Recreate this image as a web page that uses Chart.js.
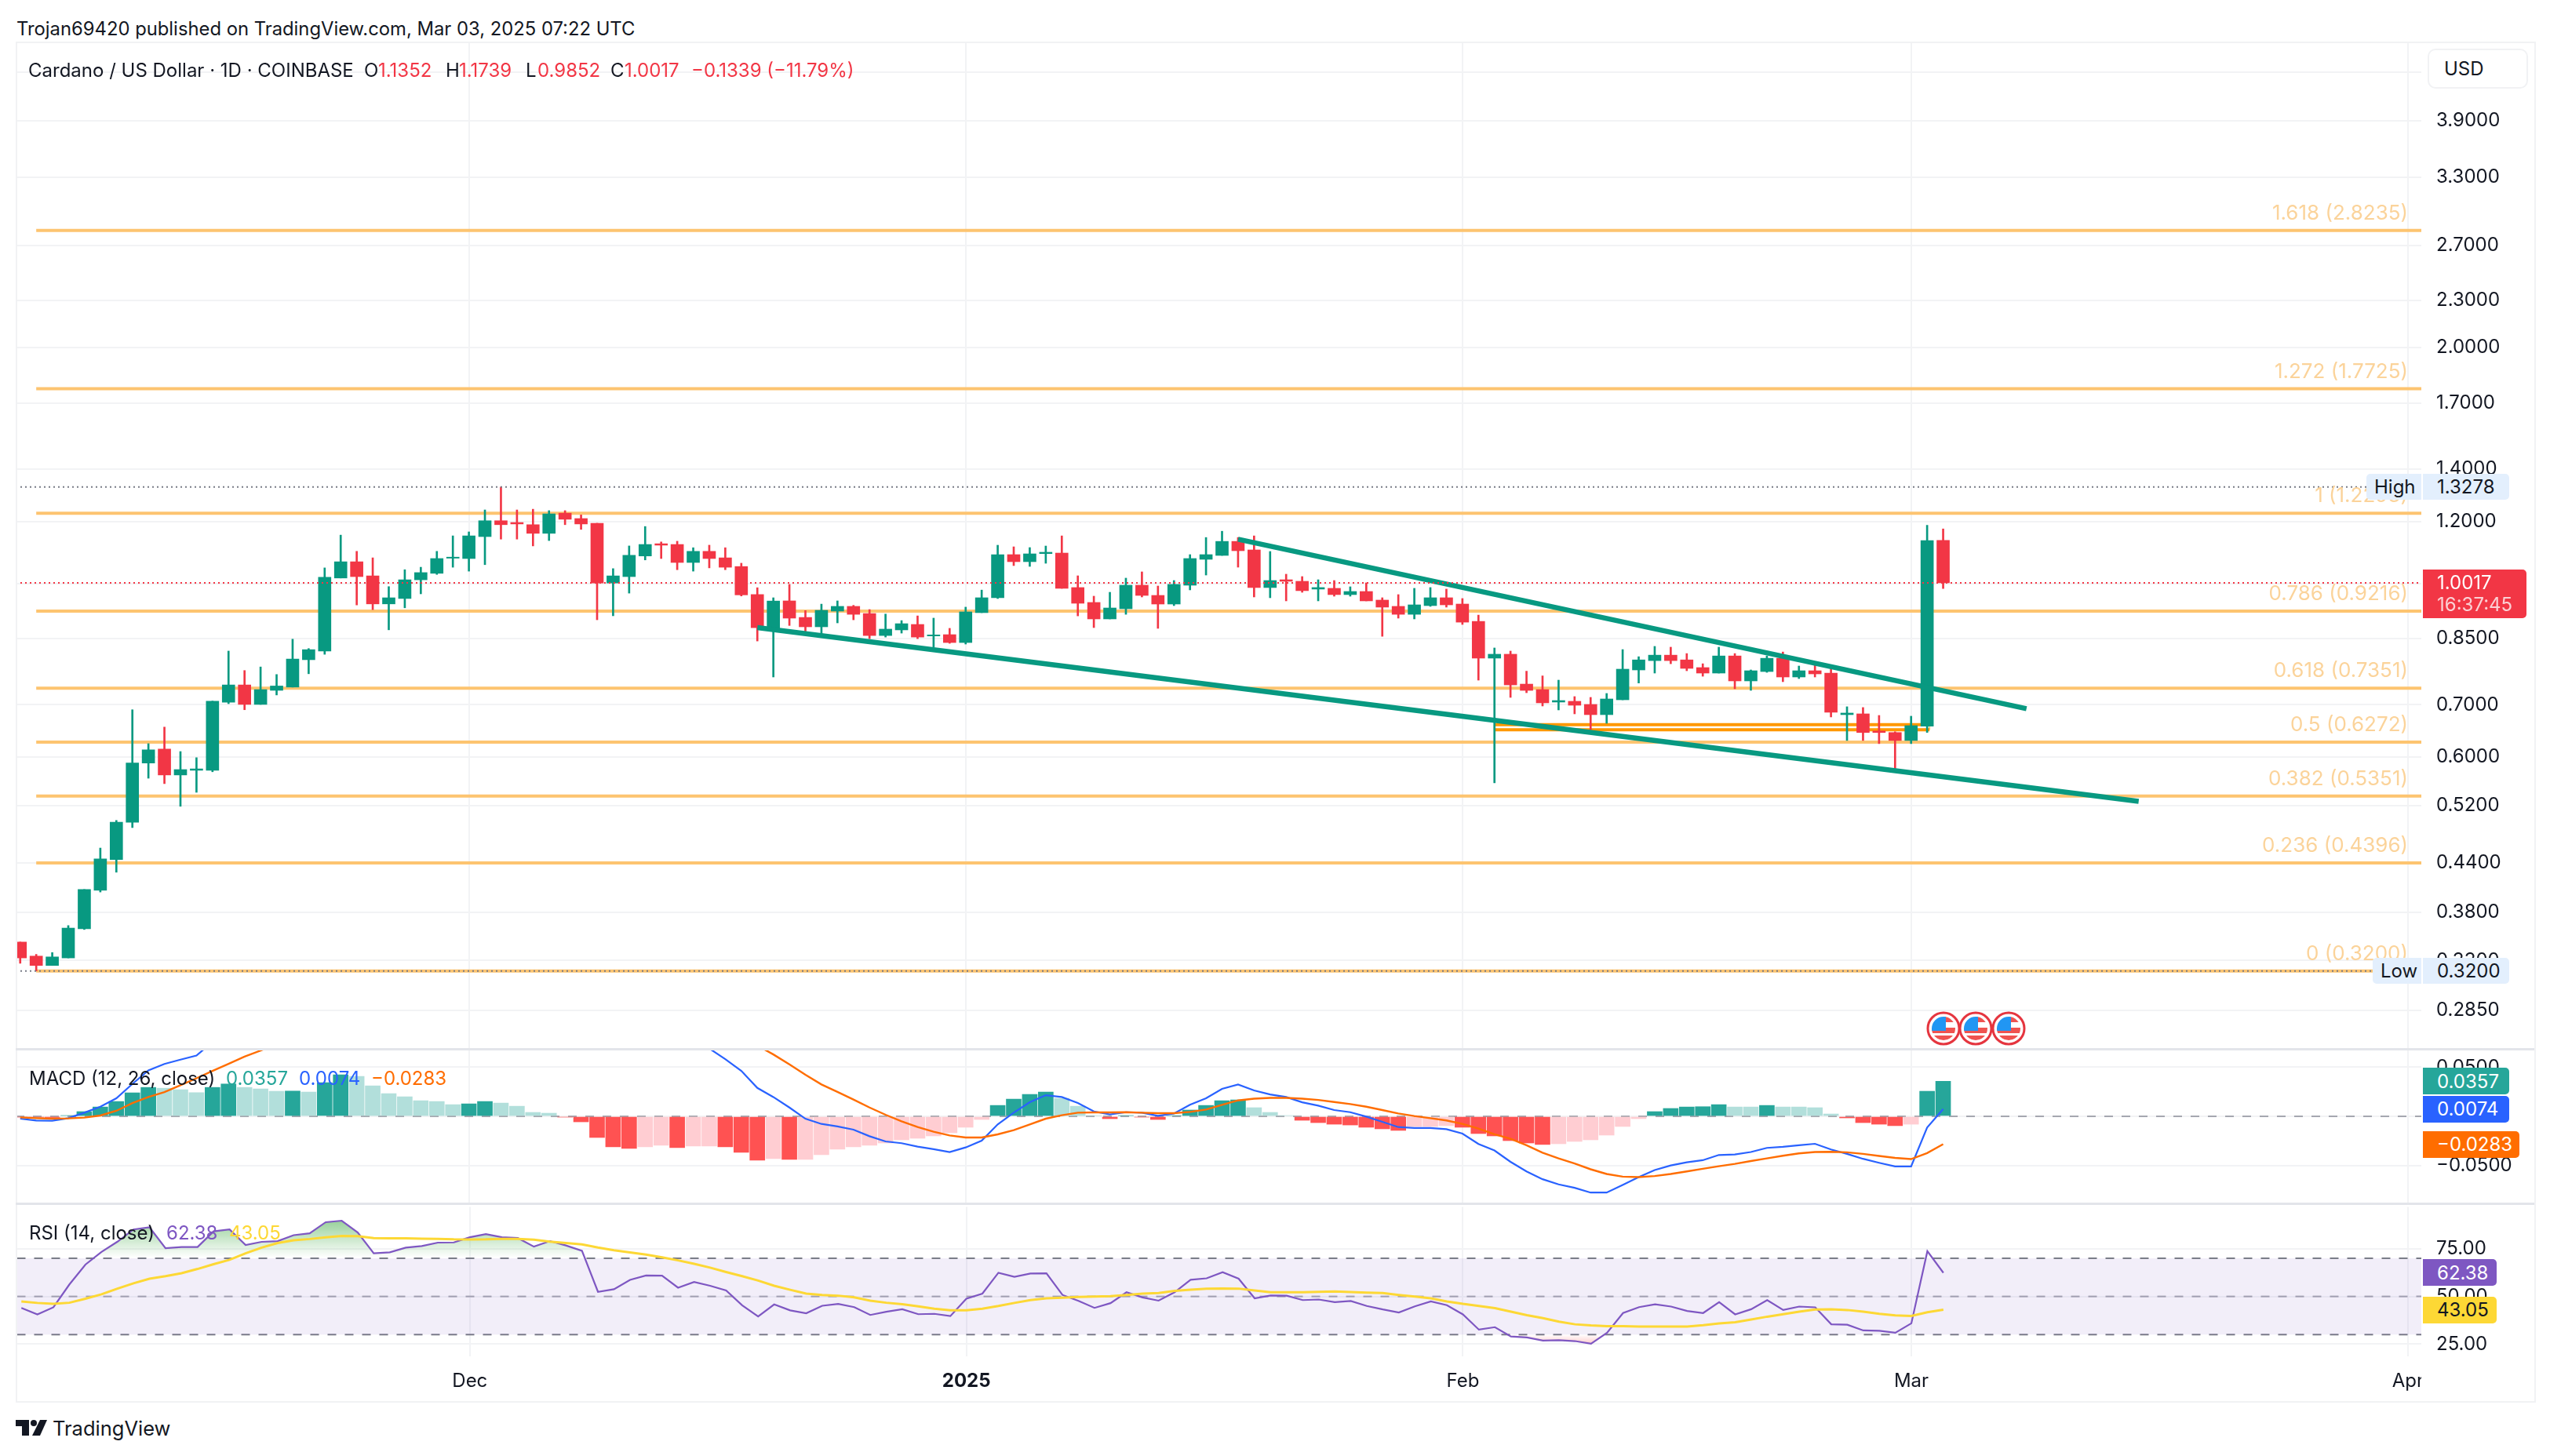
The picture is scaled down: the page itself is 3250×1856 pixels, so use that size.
<!DOCTYPE html>
<html>
<head>
<meta charset="utf-8">
<title>Cardano / US Dollar</title>
<script src="https://cdn.jsdelivr.net/npm/chart.js@4"></script>
<style>
  html, body { margin: 0; background: #fff; }
  body { position: relative; width: 3250px; height: 1856px; overflow: hidden; font-family: Inter, sans-serif; color: #131722; }
  canvas { position: absolute; left: 20px; }
  .txt { position: absolute; white-space: nowrap; transform: translateY(-50%); line-height: 1; font-size: 24px; z-index: 3; }
  .box { position: absolute; z-index: 4; display: flex; align-items: center; box-sizing: border-box; font-size: 24px; white-space: nowrap; }
  .frame { position: absolute; left: 20px; top: 53px; width: 3208px; height: 1731px; border: 2px solid #f1f2f4; z-index: 1; pointer-events: none; }
  .sep { position: absolute; left: 20px; width: 3210px; height: 3px; background: #e3e5ea; z-index: 2; }
</style>
</head>
<body>
<div class="frame"></div>
<div class="sep" style="top:1336px"></div>
<div class="sep" style="top:1533px"></div>
<canvas id="priceChart" width="3210" height="1282" style="top:55px;width:3210px;height:1282px"></canvas>
<canvas id="macdChart" width="3210" height="195" style="top:1339px;width:3210px;height:195px"></canvas>
<canvas id="rsiChart" width="3210" height="248" style="top:1537px;width:3210px;height:248px"></canvas>
<script>
// candles start on Nov 3 2024, one per day
const opens = [
  0.3484, 0.3343, 0.3252, 0.3325, 0.3622, 0.4057, 0.4440, 0.4956, 0.5897, 0.6145,
  0.5694, 0.5773, 0.5773, 0.7052, 0.7420, 0.7007, 0.7303, 0.7373, 0.7991, 0.8197,
  1.0161, 1.0658, 1.0225, 0.9416, 0.9567, 1.0108, 1.0302, 1.0771, 1.0760, 1.1477,
  1.2025, 1.1962, 1.1886, 1.1587, 1.2296, 1.2102, 1.1936, 1.0013, 1.0203, 1.0841,
  1.1238, 1.1214, 1.0636, 1.0990, 1.0782, 1.0510, 0.9679, 0.8759, 0.9500, 0.9049,
  0.8803, 0.9219, 0.9348, 0.9153, 0.8580, 0.8723, 0.8864, 0.8570, 0.8602, 0.8405,
  0.9177, 0.9588, 1.0884, 1.0661, 1.0917, 1.0934, 0.9880, 0.9456, 0.9009, 0.9283,
  0.9948, 0.9654, 0.9412, 0.9948, 1.0735, 1.0859, 1.1316, 1.1036, 0.9880, 1.0109,
  1.0063, 0.9835, 0.9857, 0.9677, 0.9766, 0.9522, 0.9348, 0.9132, 0.9369, 0.9588,
  0.9412, 0.8944, 0.8028, 0.8121, 0.7438, 0.7319, 0.7055, 0.7071, 0.7006, 0.6799,
  0.7103, 0.7754, 0.7970, 0.8099, 0.7987, 0.7808, 0.7683, 0.8080, 0.7508, 0.7718,
  0.8025, 0.7595, 0.7736, 0.7683, 0.6799, 0.6815, 0.6481, 0.6451, 0.6302, 0.6571,
  1.1352
];
const highs = [
  0.3484, 0.3360, 0.3378, 0.3657, 0.4066, 0.4593, 0.4982, 0.6898, 0.6243, 0.6555,
  0.6100, 0.5991, 0.7075, 0.8197, 0.7741, 0.7823, 0.7651, 0.8488, 0.8257, 1.0468,
  1.1527, 1.0990, 1.0782, 0.9907, 1.0412, 1.0488, 1.0990, 1.1502, 1.1637, 1.2413,
  1.3278, 1.2413, 1.2439, 1.2387, 1.2387, 1.2232, 1.1936, 1.0445, 1.1166, 1.1822,
  1.1298, 1.1321, 1.1107, 1.1191, 1.1107, 1.0613, 0.9875, 0.9587, 0.9972, 0.9233,
  0.9410, 0.9500, 0.9376, 0.9261, 0.9139, 0.8965, 0.9090, 0.9030, 0.8763, 0.9327,
  0.9807, 1.1189, 1.1137, 1.1112, 1.1163, 1.1501, 1.0227, 0.9632, 0.9743, 1.0157,
  1.0346, 0.9925, 1.0086, 1.0884, 1.1446, 1.1659, 1.1446, 1.1501, 1.0985, 1.0275,
  1.0204, 1.0109, 1.0086, 0.9902, 1.0017, 0.9588, 0.9677, 0.9857, 0.9880, 0.9835,
  0.9566, 0.9111, 0.8272, 0.8196, 0.7726, 0.7620, 0.7525, 0.7170, 0.7153, 0.7236,
  0.8233, 0.8062, 0.8310, 0.8291, 0.8137, 0.7897, 0.8291, 0.8137, 0.7754, 0.8080,
  0.8174, 0.7844, 0.7879, 0.7772, 0.6959, 0.6943, 0.6783, 0.6466, 0.6768, 1.1862,
  1.1739
];
const lows = [
  0.3273, 0.3200, 0.3252, 0.3325, 0.3615, 0.4036, 0.4278, 0.4878, 0.5640, 0.5551,
  0.5193, 0.5411, 0.5748, 0.7022, 0.6898, 0.7007, 0.7204, 0.7373, 0.7668, 0.8119,
  1.0161, 0.9387, 0.9258, 0.8725, 0.9308, 0.9699, 1.0269, 1.0488, 1.0368, 1.0568,
  1.1392, 1.1392, 1.1166, 1.1344, 1.1886, 1.1723, 0.8987, 0.9093, 0.9719, 1.0716,
  1.0760, 1.0412, 1.0368, 1.0468, 1.0412, 0.9638, 0.8443, 0.7595, 0.8837, 0.8596,
  0.8634, 0.8905, 0.8986, 0.8501, 0.8541, 0.8641, 0.8501, 0.8294, 0.8386, 0.8367,
  0.9177, 0.9566, 1.0539, 1.0514, 1.0611, 0.9857, 0.9090, 0.8783, 0.9009, 0.9132,
  0.9610, 0.8763, 0.9369, 0.9812, 1.0250, 1.0859, 1.0490, 0.9610, 0.9588, 0.9500,
  0.9743, 0.9500, 0.9632, 0.9632, 0.9500, 0.8560, 0.9030, 0.9009, 0.9348, 0.9327,
  0.8864, 0.7525, 0.5564, 0.7153, 0.7252, 0.6974, 0.6894, 0.6815, 0.6507, 0.6629,
  0.7103, 0.7462, 0.7683, 0.7897, 0.7736, 0.7612, 0.7683, 0.7337, 0.7303, 0.7700,
  0.7491, 0.7560, 0.7595, 0.6753, 0.6302, 0.6302, 0.6244, 0.5786, 0.6244, 0.6451,
  0.9852
];
const closes = [
  0.3325, 0.3252, 0.3335, 0.3630, 0.4066, 0.4449, 0.4956, 0.5897, 0.6131, 0.5694,
  0.5785, 0.5797, 0.7075, 0.7420, 0.7007, 0.7319, 0.7397, 0.8007, 0.8231, 1.0184,
  1.0658, 1.0203, 0.9416, 0.9587, 1.0108, 1.0324, 1.0760, 1.0804, 1.1502, 1.2025,
  1.1886, 1.1911, 1.1587, 1.2270, 1.2077, 1.1911, 1.0013, 1.0225, 1.0863, 1.1214,
  1.1191, 1.0636, 1.0990, 1.0760, 1.0488, 0.9669, 0.8780, 0.9496, 0.9030, 0.8803,
  0.9240, 0.9348, 0.9132, 0.8580, 0.8743, 0.8884, 0.8541, 0.8596, 0.8405, 0.9198,
  0.9588, 1.0884, 1.0661, 1.0909, 1.0960, 0.9857, 0.9434, 0.9009, 0.9304, 0.9948,
  0.9654, 0.9412, 0.9972, 1.0760, 1.0884, 1.1316, 1.1010, 0.9880, 1.0086, 1.0063,
  0.9790, 0.9880, 0.9677, 0.9766, 0.9500, 0.9327, 0.9132, 0.9390, 0.9588, 0.9390,
  0.8924, 0.8028, 0.8121, 0.7421, 0.7302, 0.7039, 0.7087, 0.6990, 0.6799, 0.7120,
  0.7772, 0.7987, 0.8099, 0.7970, 0.7790, 0.7683, 0.8080, 0.7508, 0.7736, 0.8025,
  0.7595, 0.7736, 0.7665, 0.6847, 0.6831, 0.6451, 0.6451, 0.6302, 0.6583, 1.1345,
  1.0017
];

const macdHist = [
  -0.0008, -0.0010, -0.0012, 0.0008, 0.0048, 0.0095, 0.0151, 0.0239, 0.0294, 0.0286,
  0.0271, 0.0241, 0.0294, 0.0329, 0.0294, 0.0279, 0.0255, 0.0257, 0.0247, 0.0342,
  0.0422, 0.0406, 0.0310, 0.0231, 0.0199, 0.0159, 0.0151, 0.0119, 0.0127, 0.0151,
  0.0135, 0.0103, 0.0040, 0.0032, -0.0008, -0.0056, -0.0215, -0.0310, -0.0326, -0.0310,
  -0.0294, -0.0318, -0.0302, -0.0302, -0.0310, -0.0366, -0.0446, -0.0430, -0.0438, -0.0438,
  -0.0390, -0.0334, -0.0310, -0.0294, -0.0271, -0.0239, -0.0223, -0.0199, -0.0167, -0.0111,
  -0.0032, 0.0111, 0.0175, 0.0223, 0.0247, 0.0183, 0.0103, 0.0008, -0.0024, 0.0008,
  -0.0008, -0.0032, 0.0008, 0.0064, 0.0111, 0.0159, 0.0167, 0.0088, 0.0040, 0.0008,
  -0.0040, -0.0064, -0.0080, -0.0088, -0.0111, -0.0127, -0.0143, -0.0103, -0.0103, -0.0095,
  -0.0111, -0.0175, -0.0199, -0.0247, -0.0271, -0.0286, -0.0279, -0.0255, -0.0239, -0.0191,
  -0.0103, -0.0024, 0.0048, 0.0080, 0.0095, 0.0098, 0.0119, 0.0095, 0.0095, 0.0111,
  0.0095, 0.0095, 0.0088, 0.0024, -0.0016, -0.0064, -0.0080, -0.0095, -0.0080, 0.0255,
  0.0357
];
const macdLine = [
  -0.0024, -0.0042, -0.0045, -0.0019, 0.0037, 0.0098, 0.0183, 0.0329, 0.0467, 0.0533,
  0.0576, 0.0618, 0.0756, 0.0862, 0.0901, 0.0947, 0.0995, 0.1047, 0.1087, 0.1242,
  0.1372, 0.1406, 0.1360, 0.1321, 0.1319, 0.1309, 0.1321, 0.1299, 0.1317, 0.1351,
  0.1335, 0.1303, 0.1230, 0.1212, 0.1162, 0.1104, 0.0925, 0.0810, 0.0784, 0.0780,
  0.0776, 0.0732, 0.0718, 0.0690, 0.0581, 0.0462, 0.0289, 0.0196, 0.0090, -0.0024,
  -0.0077, -0.0103, -0.0135, -0.0202, -0.0255, -0.0273, -0.0308, -0.0334, -0.0363, -0.0316,
  -0.0248, -0.0082, 0.0037, 0.0143, 0.0215, 0.0196, 0.0135, 0.0050, 0.0019, 0.0042,
  0.0037, 0.0005, 0.0029, 0.0117, 0.0183, 0.0279, 0.0324, 0.0263, 0.0223, 0.0196,
  0.0143, 0.0109, 0.0064, 0.0042, -0.0003, -0.0056, -0.0109, -0.0119, -0.0119, -0.0130,
  -0.0175, -0.0281, -0.0347, -0.0462, -0.0560, -0.0639, -0.0692, -0.0727, -0.0775, -0.0775,
  -0.0698, -0.0618, -0.0546, -0.0499, -0.0467, -0.0446, -0.0393, -0.0387, -0.0363, -0.0321,
  -0.0310, -0.0294, -0.0279, -0.0337, -0.0382, -0.0432, -0.0472, -0.0509, -0.0509, -0.0114,
  0.0074
];
const macdSignal = [
  -0.0011, -0.0019, -0.0024, -0.0021, -0.0013, 0.0008, 0.0056, 0.0135, 0.0196, 0.0247,
  0.0316, 0.0387, 0.0462, 0.0533, 0.0607, 0.0668, 0.0740, 0.0790, 0.0840, 0.0900,
  0.0950, 0.1000, 0.1050, 0.1090, 0.1120, 0.1150, 0.1170, 0.1180, 0.1190, 0.1200,
  0.1200, 0.1200, 0.1190, 0.1180, 0.1170, 0.1160, 0.1140, 0.1120, 0.1110, 0.1090,
  0.1070, 0.1050, 0.1020, 0.0990, 0.0940, 0.0860, 0.0720, 0.0629, 0.0528, 0.0422,
  0.0324, 0.0249, 0.0170, 0.0090, 0.0016, -0.0050, -0.0109, -0.0156, -0.0194, -0.0215,
  -0.0215, -0.0183, -0.0141, -0.0082, -0.0024, 0.0011, 0.0037, 0.0040, 0.0040, 0.0042,
  0.0037, 0.0032, 0.0032, 0.0045, 0.0069, 0.0117, 0.0162, 0.0180, 0.0188, 0.0188,
  0.0180, 0.0167, 0.0146, 0.0125, 0.0098, 0.0064, 0.0029, 0.0003, -0.0019, -0.0042,
  -0.0077, -0.0125, -0.0183, -0.0228, -0.0294, -0.0369, -0.0427, -0.0480, -0.0538, -0.0586,
  -0.0613, -0.0618, -0.0607, -0.0586, -0.0560, -0.0533, -0.0507, -0.0483, -0.0454, -0.0427,
  -0.0401, -0.0377, -0.0363, -0.0361, -0.0366, -0.0382, -0.0403, -0.0422, -0.0435, -0.0374,
  -0.0283
];

const rsiLine = [
  44.0, 40.6, 44.3, 56.3, 66.7, 73.3, 78.7, 85.1, 86.2, 75.3,
  75.9, 75.9, 84.1, 85.1, 76.9, 78.6, 79.0, 82.1, 83.1, 88.9,
  89.7, 83.5, 72.6, 73.1, 75.6, 76.4, 78.2, 78.3, 81.0, 82.7,
  81.0, 80.6, 76.1, 79.0, 76.7, 73.9, 52.4, 53.8, 58.7, 61.0,
  60.9, 54.6, 57.6, 55.6, 53.1, 45.4, 39.5, 45.8, 42.7, 41.2,
  45.1, 46.1, 44.4, 40.3, 42.0, 43.3, 40.7, 40.9, 39.7, 48.8,
  51.5, 62.4, 60.3, 62.0, 62.1, 50.8, 47.7, 44.0, 46.5, 52.2,
  49.5, 47.8, 52.2, 58.7, 59.5, 62.7, 59.3, 49.0, 50.5, 50.4,
  48.1, 48.4, 47.0, 47.6, 45.0, 43.2, 41.6, 44.8, 47.4, 45.4,
  40.6, 32.6, 33.9, 29.0, 28.5, 26.9, 27.1, 26.6, 25.2, 31.0,
  41.3, 44.4, 45.9, 44.7, 42.4, 41.3, 47.0, 40.6, 43.3, 48.1,
  42.9, 44.7, 44.3, 35.4, 35.2, 32.2, 32.0, 31.0, 35.9, 73.7,
  62.38
];
const rsiAverage = [
  47.4, 46.6, 46.1, 46.7, 48.8, 51.1, 54.1, 56.9, 59.3, 60.6,
  62.2, 64.4, 66.9, 69.2, 72.6, 75.6, 78.0, 79.4, 80.1, 81.0,
  81.7, 81.6, 80.6, 80.5, 80.5, 80.3, 80.2, 79.9, 79.8, 79.9,
  80.2, 80.1, 79.7, 78.7, 78.0, 77.3, 75.6, 74.2, 73.1, 71.9,
  70.5, 68.9, 67.1, 65.1, 62.8, 60.6, 58.3, 55.6, 53.5, 51.5,
  50.8, 50.4, 49.5, 47.8, 46.7, 45.9, 44.8, 43.6, 42.7, 42.7,
  43.6, 45.0, 46.6, 48.1, 49.0, 49.3, 49.7, 49.9, 50.1, 50.8,
  51.5, 51.8, 52.9, 53.5, 54.1, 54.2, 54.1, 53.1, 52.2, 52.2,
  52.2, 52.4, 52.6, 52.3, 52.0, 51.8, 50.8, 49.9, 49.0, 47.4,
  46.1, 45.0, 43.9, 42.0, 40.2, 38.6, 36.8, 35.4, 34.8, 34.4,
  34.4, 34.2, 34.2, 34.2, 34.2, 34.9, 35.9, 36.5, 37.9, 39.4,
  40.7, 42.0, 43.2, 43.3, 42.9, 42.0, 40.9, 40.1, 39.8, 41.7,
  43.05
];

const monthDays = [28, 59, 90, 118, 149];
const monthLabels = ['Dec', '2025', 'Feb', 'Mar', 'Apr'];
const priceTicks = [4.5, 3.9, 3.3, 2.7, 2.3, 2.0, 1.7, 1.4, 1.2, 1.0, 0.85, 0.7, 0.6, 0.52, 0.44, 0.38, 0.33, 0.285];
const macdTicks = [0.05, 0, -0.05];
const rsiTicks = [75, 50, 25];
const fibRatios = ['1.618', '1.272', '1', '0.786', '0.618', '0.5', '0.382', '0.236', '0'];
const fibLevels = [2.8235, 1.7725, 1.2293, 0.9216, 0.7351, 0.6272, 0.5351, 0.4396, 0.3200];
const upperTrendDays = [76, 125.2];
const upperTrendPrices = [1.1389, 0.6919];
const lowerTrendDays = [46, 132.2];
const lowerTrendPrices = [0.8782, 0.5269];
const zoneDays = [92, 119.15];
const zonePrices = [0.6600, 0.6505];
const highPrice = 1.3278;
const lowPrice = 0.3200;
const lastPrice = 1.0017;

const GREEN = '#089981', RED = '#f23645', FIB = '#fdc470', FIB_TEXT = '#fbd39a';
const GRID = '#f2f3f5', TEXT = '#131722';
const X_MIN = -0.2815, X_MAX = 149.84;
const AXIS_WIDTH = 144;
const FONT = 'Inter';
const days = closes.map((c, i) => i);

function hLine(value, x0, x1, color, width, dash, order) {
  return {
    type: 'line',
    data: [{ x: x0, y: value }, { x: x1, y: value }],
    borderColor: color,
    borderWidth: width,
    borderDash: dash || [],
    pointRadius: 0,
    fill: false,
    order: order
  };
}

function seriesLine(values, color, width, order) {
  return {
    type: 'line',
    data: values.map((v, i) => ({ x: days[i], y: v })),
    borderColor: color,
    borderWidth: width,
    pointRadius: 0,
    tension: 0,
    fill: false,
    order: order
  };
}

function segment(xs, ys, color, width, order) {
  return {
    type: 'line',
    data: xs.map((x, i) => ({ x: x, y: ys[i] })),
    borderColor: color,
    borderWidth: width,
    pointRadius: 0,
    fill: false,
    order: order
  };
}

function xAxis(showLabels) {
  return {
    type: 'linear',
    min: X_MIN,
    max: X_MAX,
    bounds: 'data',
    offset: false,
    border: { display: false },
    grid: { color: GRID, lineWidth: 2, drawTicks: false, offset: false },
    afterBuildTicks: scale => { scale.ticks = monthDays.map(v => ({ value: v })); },
    afterFit: scale => {
      scale.height = showLabels ? 56 : 0;
      scale.paddingLeft = 0;
      scale.paddingRight = 0;
    },
    ticks: {
      display: showLabels,
      autoSkip: false,
      maxRotation: 0,
      padding: 17,
      color: TEXT,
      font: ctx => ({ family: FONT, size: 24, weight: ctx.tick && ctx.tick.value === 59 ? 'bold' : 'normal' }),
      callback: value => monthLabels[monthDays.indexOf(value)]
    }
  };
}

function yAxis(type, min, max, tickValues, format) {
  return {
    type: type,
    position: 'right',
    min: min,
    max: max,
    bounds: 'data',
    border: { display: false },
    grid: { color: GRID, lineWidth: 2, drawTicks: false },
    afterBuildTicks: scale => { scale.ticks = tickValues.map(v => ({ value: v })); },
    afterFit: scale => {
      scale.width = AXIS_WIDTH;
      scale.paddingTop = 0;
      scale.paddingBottom = 0;
    },
    ticks: {
      autoSkip: false,
      padding: 19,
      color: TEXT,
      font: { family: FONT, size: 24 },
      callback: format
    }
  };
}

const baseOptions = {
  responsive: false,
  animation: false,
  devicePixelRatio: 1,
  layout: { padding: 0 },
  events: [],
  plugins: { legend: { display: false }, tooltip: { enabled: false } }
};

// price pane
const fibSets = fibLevels.map(level => hLine(level, 1, X_MAX + 1, FIB, 4, null, 6));
const candleColors = closes.map((c, i) => (c >= opens[i] ? GREEN : RED));

const priceChart = new Chart(document.getElementById('priceChart'), {
  type: 'bar',
  data: {
    datasets: [
      ...fibSets,
      hLine(zonePrices[0], zoneDays[0], zoneDays[1], '#ff9800', 4, null, 5),
      hLine(zonePrices[1], zoneDays[0], zoneDays[1], '#ff9800', 4, null, 5),
      segment([zoneDays[0], zoneDays[0]], zonePrices, '#ffd98a', 2, 5),
      segment([zoneDays[1], zoneDays[1]], zonePrices, '#ffd98a', 2, 5),
      {
        type: 'bar',
        grouped: false,
        barThickness: 2,
        data: days.map(i => ({ x: i, y: [lows[i], highs[i]] })),
        backgroundColor: candleColors,
        order: 4
      },
      {
        type: 'bar',
        grouped: false,
        barThickness: 16,
        data: days.map(i => ({ x: i, y: [opens[i], closes[i]] })),
        backgroundColor: candleColors,
        order: 3
      },
      segment(upperTrendDays, upperTrendPrices, GREEN, 6.5, 2),
      segment(lowerTrendDays, lowerTrendPrices, GREEN, 6.5, 2),
      hLine(highPrice, X_MIN, X_MAX, '#787b86', 2, [2, 4], 1),
      hLine(lowPrice, X_MIN, X_MAX, '#787b86', 2, [2, 4], 1),
      hLine(lastPrice, X_MIN, X_MAX, RED, 2, [2, 4], 1)
    ]
  },
  options: {
    ...baseOptions,
    scales: {
      x: xAxis(false),
      y: yAxis('logarithmic', 0.2545, 4.897, priceTicks, v => v.toFixed(4))
    }
  }
});

// MACD pane
const histColors = macdHist.map((v, i) => {
  const prev = i > 0 ? macdHist[i - 1] : 0;
  if (v >= 0) return v > prev ? '#26a69a' : '#b2dfdb';
  return v < prev ? '#ff5252' : '#ffcdd2';
});

const macdChart = new Chart(document.getElementById('macdChart'), {
  type: 'bar',
  data: {
    datasets: [
      hLine(0, X_MIN, X_MAX, '#a5a7af', 2, [11, 11], 4),
      {
        type: 'bar',
        barThickness: 19,
        data: days.map(i => ({ x: i, y: macdHist[i] })),
        backgroundColor: histColors,
        order: 3
      },
      seriesLine(macdLine, '#2962ff', 2.2, 2),
      seriesLine(macdSignal, '#ff6d00', 2.4, 1)
    ]
  },
  options: {
    ...baseOptions,
    scales: {
      x: xAxis(false),
      y: yAxis('linear', -0.0885, 0.0670, macdTicks, v => v.toFixed(4).replace('-', '\u2212'))
    }
  }
});

// RSI pane
const band70 = hLine(70, X_MIN, X_MAX, '#787b86', 2, [11, 11], 5);
band70.fill = 2;
band70.backgroundColor = 'rgba(126, 87, 194, 0.1)';
const rsiOver = seriesLine(rsiLine, 'rgba(0,0,0,0)', 0, 4);
const rsiUnder = seriesLine(rsiLine, 'rgba(0,0,0,0)', 0, 4);

const rsiChart = new Chart(document.getElementById('rsiChart'), {
  type: 'line',
  data: {
    datasets: [
      band70,
      hLine(50, X_MIN, X_MAX, '#a5a7af', 2, [11, 11], 5),
      hLine(30, X_MIN, X_MAX, '#787b86', 2, [11, 11], 5),
      rsiOver,
      rsiUnder,
      seriesLine(rsiLine, '#7e57c2', 2.2, 2),
      seriesLine(rsiAverage, '#fdd835', 3, 1)
    ]
  },
  options: {
    ...baseOptions,
    scales: {
      x: xAxis(true),
      y: yAxis('linear', 18.6, 96.9, rsiTicks, v => v.toFixed(2))
    }
  }
});

// green and red fade where RSI leaves the band
const rsiY = rsiChart.scales.y;
const rsiCtx = rsiChart.ctx;
const overFade = rsiCtx.createLinearGradient(0, rsiY.getPixelForValue(90), 0, rsiY.getPixelForValue(70));
overFade.addColorStop(0, 'rgba(76, 175, 80, 0.6)');
overFade.addColorStop(1, 'rgba(76, 175, 80, 0)');
const underFade = rsiCtx.createLinearGradient(0, rsiY.getPixelForValue(30), 0, rsiY.getPixelForValue(25));
underFade.addColorStop(0, 'rgba(255, 82, 82, 0)');
underFade.addColorStop(1, 'rgba(255, 82, 82, 0.3)');
rsiOver.fill = { target: { value: 70 }, above: overFade, below: 'rgba(0,0,0,0)' };
rsiUnder.fill = { target: { value: 30 }, above: 'rgba(0,0,0,0)', below: underFade };
rsiChart.update();

// text on top of the charts
function addText(text, x, y, color, extra) {
  const el = document.createElement('div');
  el.className = 'txt';
  el.textContent = text;
  el.style.left = x + 'px';
  el.style.top = y + 'px';
  if (color) el.style.color = color;
  if (extra) Object.assign(el.style, extra);
  document.body.appendChild(el);
  return el;
}

function addBox(text, left, right, centerY, height, bg, color, radius, pad) {
  const el = document.createElement('div');
  el.className = 'box';
  el.textContent = text;
  el.style.left = left + 'px';
  el.style.width = (right - left) + 'px';
  el.style.top = (centerY - height / 2) + 'px';
  el.style.height = height + 'px';
  el.style.background = bg;
  el.style.color = color;
  el.style.borderRadius = radius;
  el.style.paddingLeft = pad + 'px';
  document.body.appendChild(el);
  return el;
}

addText('Trojan69420 published on TradingView.com, Mar 03, 2025 07:22 UTC', 21, 37, TEXT, { fontSize: '23.8px' });

addText('Cardano / US Dollar \u00b7 1D \u00b7 COINBASE', 36, 90);
const ohlcText = [
  ['O', 464, TEXT], ['1.1352', 482, RED], ['H', 568, TEXT], ['1.1739', 585, RED],
  ['L', 670, TEXT], ['0.9852', 685, RED], ['C', 778, TEXT], ['1.0017', 796, RED],
  ['\u22120.1339 (\u221211.79%)', 881, RED]
];
ohlcText.forEach(t => addText(t[0], t[1], 90, t[2]));

addText('MACD (12, 26, close)', 37, 1375);
addText('0.0357', 288, 1375, '#26a69a');
addText('0.0074', 381, 1375, '#2962ff');
addText('\u22120.0283', 473, 1375, '#ff6d00');

addText('RSI (14, close)', 37, 1572);
addText('62.38', 212, 1572, '#7e57c2');
addText('43.05', 292, 1572, '#fdd835');

// fib labels sit just above their lines
const priceY = v => 55 + priceChart.scales.y.getPixelForValue(v);
fibLevels.forEach((level, i) => {
  const el = addText(fibRatios[i] + ' (' + level.toFixed(4) + ')', 0, priceY(level) - 23, FIB_TEXT, { fontSize: '26px' });
  el.style.left = 'auto';
  el.style.right = (3250 - 3069) + 'px';
});

addBox('USD', 3094, 3222, 87.5, 51, '#fff', TEXT, '10px', 19).style.border = '2px solid #f1f2f4';

const TAG_BLUE = '#e3effd';
addBox('High', 3016, 3086, priceY(highPrice), 33, TAG_BLUE, TEXT, '5px 0 0 5px', 10);
addBox(highPrice.toFixed(4), 3088, 3198, priceY(highPrice), 33, TAG_BLUE, TEXT, '0 5px 5px 0', 18);
addBox('Low', 3024, 3086, priceY(lowPrice), 33, TAG_BLUE, TEXT, '5px 0 0 5px', 10);
addBox(lowPrice.toFixed(4), 3088, 3198, priceY(lowPrice), 33, TAG_BLUE, TEXT, '0 5px 5px 0', 18);

const lastY = priceY(lastPrice);
addBox('', 3088, 3220, lastY + 14, 62, RED, '#fff', '0 5px 5px 0', 0);
addText(lastPrice.toFixed(4), 3106, lastY, '#fff').style.zIndex = 5;
addText('16:37:45', 3106, lastY + 28, '#fbd0d4').style.zIndex = 5;

const macdY = v => 1339 + macdChart.scales.y.getPixelForValue(v);
addBox('0.0357', 3088, 3198, macdY(0.0357), 34, '#26a69a', '#fff', '0 5px 5px 0', 18);
addBox('0.0074', 3088, 3198, macdY(0.0074), 34, '#2962ff', '#fff', '0 5px 5px 0', 18);
addBox('\u22120.0283', 3088, 3211, macdY(-0.0283), 34, '#ff6d00', '#fff', '0 5px 5px 0', 18);

const rsiPageY = v => 1537 + rsiChart.scales.y.getPixelForValue(v);
addBox('62.38', 3088, 3182, rsiPageY(62.38), 34, '#7e57c2', '#fff', '0 5px 5px 0', 18);
addBox('43.05', 3088, 3182, rsiPageY(43.05), 34, '#fdd835', TEXT, '0 5px 5px 0', 18);

// the Apr label is cut off at the plot edge
const cover = document.createElement('div');
cover.style.cssText = 'position:absolute;left:3086px;top:1735px;width:100px;height:46px;background:#fff;z-index:2';
document.body.appendChild(cover);

// event flags
[2477, 2518, 2560].forEach(cx => {
  const holder = document.createElement('div');
  holder.style.cssText = `position:absolute;left:${cx - 22}px;top:1289px;width:44px;height:44px;z-index:3`;
  holder.innerHTML = `<svg width="44" height="44" viewBox="0 0 44 44">
    <defs><clipPath id="c${cx}"><circle cx="22" cy="22" r="15"/></clipPath></defs>
    <circle cx="22" cy="22" r="20" fill="#fff" stroke="#e5353f" stroke-width="3"/>
    <g clip-path="url(#c${cx})">
      <rect x="5" y="5" width="34" height="34" fill="#fff"/>
      <rect x="5" y="21" width="34" height="7" fill="#ef5350"/>
      <rect x="5" y="31" width="34" height="9" fill="#ef5350"/>
      <rect x="22" y="7" width="17" height="7" fill="#ef5350"/>
      <rect x="5" y="5" width="20" height="20" fill="#2196f3"/>
    </g></svg>`;
  document.body.appendChild(holder);
});

// logo and wordmark
const logo = document.createElement('div');
logo.style.cssText = 'position:absolute;left:20px;top:1810px;width:40px;height:20px';
logo.innerHTML = `<svg width="40" height="20" viewBox="0 0 40 20" fill="#131722">
  <path d="M0 0H17V20H8V8H0Z"/><circle cx="23" cy="4" r="4"/><path d="M31 0H40L31 20H21Z"/></svg>`;
document.body.appendChild(logo);
addText('TradingView', 67, 1821, TEXT, { fontSize: '25.5px' });
</script>
</body>
</html>
